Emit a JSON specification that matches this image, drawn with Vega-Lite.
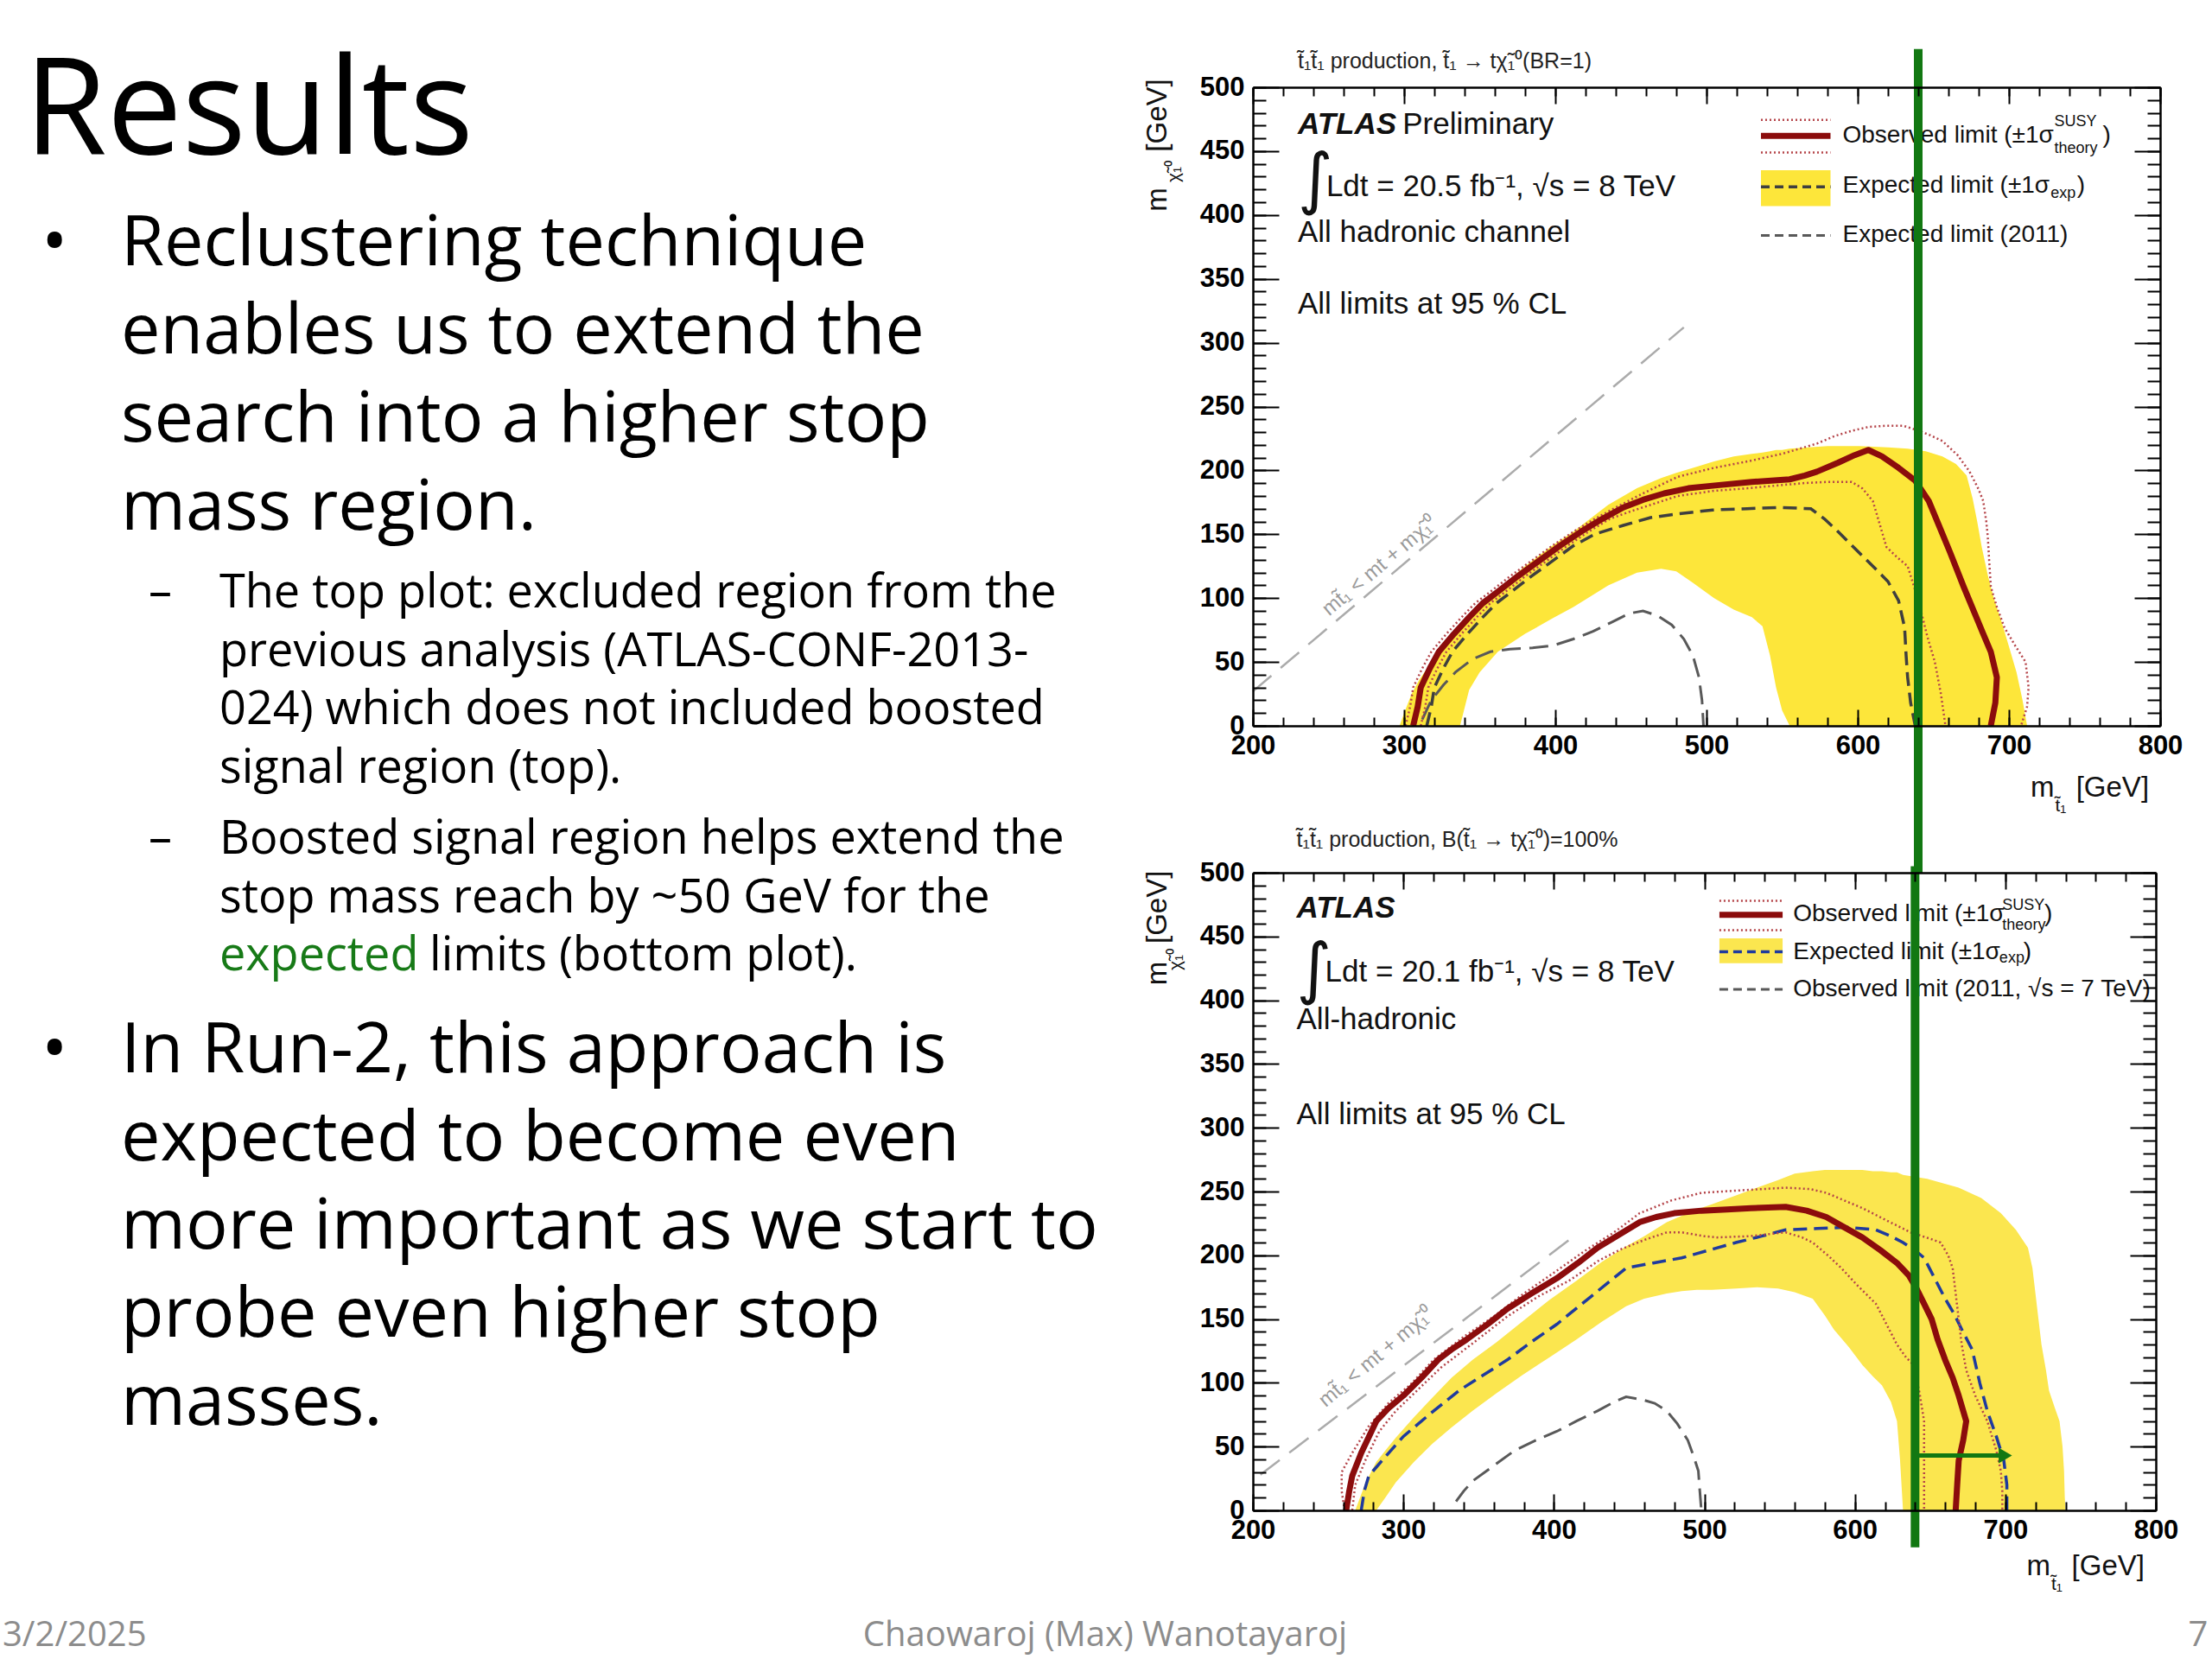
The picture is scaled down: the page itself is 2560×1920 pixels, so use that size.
{
"$schema":"https://vega.github.io/schema/vega-lite/v6.json",
"background":"white",
"padding":0,
"config":{"view":{"stroke":null},"axis":{"grid":false}},
"datasets":{
"L_title":[{"x":28,"y":178,"t":"Results"}],
"L_main":[{"x":140,"y":307,"t":"Reclustering technique\nenables us to extend the\nsearch into a higher stop\nmass region."},{"x":140,"y":1241,"t":"In Run-2, this approach is\nexpected to become even\nmore important as we start to\nprobe even higher stop\nmasses."}],
"L_bul":[{"x":48,"y":307,"t":"•"},{"x":48,"y":1241,"t":"•"}],
"L_sub":[{"x":254,"y":703,"t":"The top plot: excluded region from the\nprevious analysis (ATLAS-CONF-2013-\n024) which does not included boosted\nsignal region (top)."},{"x":254,"y":988,"t":"Boosted signal region helps extend the\nstop mass reach by ~50 GeV for the"},{"x":497,"y":1123,"t":"limits (bottom plot)."}],
"L_dash":[{"x":172,"y":703,"t":"–"},{"x":172,"y":988,"t":"–"}],
"L_green":[{"x":254,"y":1123,"t":"expected"}],
"L_footL":[{"x":3,"y":1905,"t":"3/2/2025"}],
"L_footC":[{"x":1279,"y":1905,"t":"Chaowaroj (Max) Wanotayaroj"},{"x":2544,"y":1905,"t":"7"}],
"A_band":[{"m":297,"lo":0,"hi":0},{"m":300,"lo":0,"hi":10},{"m":305,"lo":0,"hi":25},{"m":310,"lo":0,"hi":36},{"m":320,"lo":0,"hi":53},{"m":330,"lo":0,"hi":67},{"m":337,"lo":0,"hi":77},{"m":343,"lo":28,"hi":85},{"m":350,"lo":42,"hi":93},{"m":362,"lo":58,"hi":107},{"m":380,"lo":72,"hi":125},{"m":398,"lo":84,"hi":141},{"m":412,"lo":93,"hi":152},{"m":435,"lo":110,"hi":173},{"m":454,"lo":120,"hi":186},{"m":470,"lo":123,"hi":194},{"m":480,"lo":121,"hi":198},{"m":491,"lo":112,"hi":202},{"m":505,"lo":100,"hi":207},{"m":518,"lo":91,"hi":211},{"m":530,"lo":85,"hi":213},{"m":537,"lo":78,"hi":214},{"m":542,"lo":55,"hi":215},{"m":546,"lo":30,"hi":216},{"m":550,"lo":12,"hi":216},{"m":555,"lo":0,"hi":217},{"m":580,"lo":0,"hi":219},{"m":601,"lo":0,"hi":219},{"m":620,"lo":0,"hi":218},{"m":633,"lo":0,"hi":217},{"m":645,"lo":0,"hi":215},{"m":656,"lo":0,"hi":211},{"m":665,"lo":0,"hi":205},{"m":672,"lo":0,"hi":196},{"m":676,"lo":0,"hi":178},{"m":679,"lo":0,"hi":160},{"m":682,"lo":0,"hi":140},{"m":686,"lo":0,"hi":118},{"m":690,"lo":0,"hi":100},{"m":695,"lo":0,"hi":82},{"m":700,"lo":0,"hi":62},{"m":705,"lo":0,"hi":42},{"m":709,"lo":0,"hi":20},{"m":712,"lo":0,"hi":0}],
"A_obs":[{"o":0,"m":306,"v":0},{"o":1,"m":309,"v":15},{"o":2,"m":311,"v":30},{"o":3,"m":317,"v":45},{"o":4,"m":323,"v":58},{"o":5,"m":333,"v":72},{"o":6,"m":343,"v":85},{"o":7,"m":352,"v":96},{"o":8,"m":362,"v":105},{"o":9,"m":375,"v":117},{"o":10,"m":389,"v":129},{"o":11,"m":403,"v":141},{"o":12,"m":417,"v":152},{"o":13,"m":431,"v":162},{"o":14,"m":445,"v":171},{"o":15,"m":458,"v":177},{"o":16,"m":472,"v":182},{"o":17,"m":488,"v":186},{"o":18,"m":504,"v":188},{"o":19,"m":530,"v":191},{"o":20,"m":555,"v":193},{"o":21,"m":565,"v":196},{"o":22,"m":573,"v":199},{"o":23,"m":587,"v":206},{"o":24,"m":598,"v":212},{"o":25,"m":607,"v":216},{"o":26,"m":616,"v":211},{"o":27,"m":627,"v":202},{"o":28,"m":638,"v":192},{"o":29,"m":647,"v":176},{"o":30,"m":654,"v":156},{"o":31,"m":661,"v":136},{"o":32,"m":670,"v":109},{"o":33,"m":677,"v":89},{"o":34,"m":683,"v":72},{"o":35,"m":688,"v":58},{"o":36,"m":692,"v":38},{"o":37,"m":691,"v":18},{"o":38,"m":688,"v":0}],
"A_up":[{"o":0,"m":301,"v":0},{"o":1,"m":304,"v":15},{"o":2,"m":306,"v":30},{"o":3,"m":312,"v":45},{"o":4,"m":318,"v":58},{"o":5,"m":328,"v":72},{"o":6,"m":338,"v":85},{"o":7,"m":347,"v":96},{"o":8,"m":357,"v":105},{"o":9,"m":370,"v":117},{"o":10,"m":384,"v":129},{"o":11,"m":398,"v":141},{"o":12,"m":412,"v":152},{"o":13,"m":426,"v":162},{"o":14,"m":440,"v":171},{"o":15,"m":458,"v":182},{"o":16,"m":481,"v":195},{"o":17,"m":505,"v":202},{"o":18,"m":527,"v":207},{"o":19,"m":550,"v":213},{"o":20,"m":573,"v":221},{"o":21,"m":585,"v":227},{"o":22,"m":596,"v":231},{"o":23,"m":607,"v":234},{"o":24,"m":619,"v":235},{"o":25,"m":630,"v":235},{"o":26,"m":638,"v":232},{"o":27,"m":647,"v":228},{"o":28,"m":656,"v":223},{"o":29,"m":666,"v":212},{"o":30,"m":674,"v":199},{"o":31,"m":680,"v":185},{"o":32,"m":683,"v":176},{"o":33,"m":685,"v":160},{"o":34,"m":686,"v":148},{"o":35,"m":687,"v":128},{"o":36,"m":688,"v":109},{"o":37,"m":692,"v":93},{"o":38,"m":697,"v":77},{"o":39,"m":704,"v":63},{"o":40,"m":711,"v":50},{"o":41,"m":713,"v":30},{"o":42,"m":712,"v":15},{"o":43,"m":708,"v":0}],
"A_dn":[{"o":0,"m":311,"v":0},{"o":1,"m":314,"v":15},{"o":2,"m":316,"v":30},{"o":3,"m":322,"v":45},{"o":4,"m":328,"v":58},{"o":5,"m":338,"v":72},{"o":6,"m":348,"v":85},{"o":7,"m":357,"v":96},{"o":8,"m":367,"v":105},{"o":9,"m":380,"v":117},{"o":10,"m":394,"v":129},{"o":11,"m":408,"v":141},{"o":12,"m":422,"v":152},{"o":13,"m":436,"v":162},{"o":14,"m":450,"v":168},{"o":15,"m":463,"v":173},{"o":16,"m":481,"v":180},{"o":17,"m":505,"v":184},{"o":18,"m":527,"v":186},{"o":19,"m":545,"v":188},{"o":20,"m":564,"v":190},{"o":21,"m":580,"v":191},{"o":22,"m":596,"v":191},{"o":23,"m":603,"v":186},{"o":24,"m":610,"v":176},{"o":25,"m":614,"v":160},{"o":26,"m":619,"v":140},{"o":27,"m":626,"v":132},{"o":28,"m":633,"v":125},{"o":29,"m":637,"v":110},{"o":30,"m":642,"v":89},{"o":31,"m":646,"v":70},{"o":32,"m":651,"v":50},{"o":33,"m":655,"v":25},{"o":34,"m":658,"v":0}],
"A_exp":[{"o":0,"m":315,"v":0},{"o":1,"m":318,"v":15},{"o":2,"m":320,"v":30},{"o":3,"m":326,"v":45},{"o":4,"m":332,"v":58},{"o":5,"m":342,"v":72},{"o":6,"m":352,"v":85},{"o":7,"m":361,"v":96},{"o":8,"m":371,"v":105},{"o":9,"m":384,"v":117},{"o":10,"m":398,"v":129},{"o":11,"m":412,"v":141},{"o":12,"m":426,"v":150},{"o":13,"m":445,"v":157},{"o":14,"m":463,"v":163},{"o":15,"m":481,"v":166},{"o":16,"m":504,"v":169},{"o":17,"m":527,"v":170},{"o":18,"m":548,"v":171},{"o":19,"m":569,"v":170},{"o":20,"m":578,"v":162},{"o":21,"m":587,"v":152},{"o":22,"m":598,"v":139},{"o":23,"m":610,"v":125},{"o":24,"m":620,"v":113},{"o":25,"m":627,"v":98},{"o":26,"m":631,"v":77},{"o":27,"m":632,"v":55},{"o":28,"m":633,"v":38},{"o":29,"m":635,"v":18},{"o":30,"m":638,"v":0}],
"A_2011":[{"o":0,"m":312,"v":5},{"o":1,"m":318,"v":20},{"o":2,"m":326,"v":32},{"o":3,"m":334,"v":42},{"o":4,"m":345,"v":52},{"o":5,"m":357,"v":58},{"o":6,"m":370,"v":60},{"o":7,"m":385,"v":61},{"o":8,"m":399,"v":63},{"o":9,"m":412,"v":68},{"o":10,"m":425,"v":74},{"o":11,"m":437,"v":81},{"o":12,"m":449,"v":88},{"o":13,"m":458,"v":90},{"o":14,"m":468,"v":86},{"o":15,"m":477,"v":79},{"o":16,"m":485,"v":68},{"o":17,"m":491,"v":55},{"o":18,"m":495,"v":38},{"o":19,"m":497,"v":20},{"o":20,"m":498,"v":0}],
"A_diag":[{"o":0,"m":200,"v":27},{"o":1,"m":485,"v":312}],
"A_legbox":[{"m":536,"m2":582,"v":407,"v2":435}],
"A_legdot":[{"m":536,"m2":582,"v":474.5},{"m":536,"m2":582,"v":449}],
"A_legobs":[{"m":536,"m2":582,"v":462}],
"A_legexp":[{"m":536,"m2":582,"v":422}],
"A_leg2011":[{"m":536,"m2":582,"v":384}],
"A_head":[{"m":229.7,"v":520,"t":"t̃₁t̃₁ production, t̃₁ → tχ̃₁⁰(BR=1)"}],
"A_atlas":[{"m":229.7,"v":471,"t":"ATLAS"}],
"A_t35":[{"m":299,"v":471,"t":"Preliminary"},{"m":248.5,"v":422,"t":"Ldt = 20.5 fb⁻¹, √s = 8 TeV"},{"m":229.7,"v":386,"t":"All hadronic channel"},{"m":229.7,"v":330,"t":"All limits at 95 % CL"}],
"A_int":[{"m":229.7,"v":426,"t":"∫"}],
"A_leg":[{"m":590,"v":462,"t":"Observed limit (±1σ"},{"m":590,"v":423,"t":"Expected limit (±1σ"},{"m":590,"v":384,"t":"Expected limit (2011)"},{"m":762,"v":462,"t":")"},{"m":745,"v":423,"t":")"}],
"A_legsm":[{"m":730,"v":473,"t":"SUSY"},{"m":730,"v":452,"t":"theory"},{"m":727.5,"v":417,"t":"exp"}],
"A_xt":[{"m":730,"v":-49,"t":"m"},{"m":792.6,"v":-49,"t":"[GeV]"}],
"A_xs":[{"m":730.5,"v":-63,"t":"t̃₁"}],
"A_yt":[{"m":137,"v":478,"t":"[GeV]"},{"m":137,"v":412,"t":"m"}],
"A_ys":[{"m":148,"v":434,"t":"χ̃₁⁰"}],
"A_dl":[{"m":284,"v":125,"t":"mt̃₁ < mt + mχ̃₁⁰"}],
"A_green":[{"m":640,"v":530,"v2":-115}],
"B_band":[{"m":268,"lo":0,"hi":0},{"m":275,"lo":0,"hi":22},{"m":282,"lo":0,"hi":38},{"m":288,"lo":10,"hi":47},{"m":295,"lo":22,"hi":57},{"m":307,"lo":38,"hi":73},{"m":319,"lo":52,"hi":88},{"m":332,"lo":65,"hi":104},{"m":346,"lo":78,"hi":118},{"m":362,"lo":92,"hi":132},{"m":379,"lo":106,"hi":148},{"m":397,"lo":120,"hi":165},{"m":415,"lo":134,"hi":180},{"m":432,"lo":148,"hi":195},{"m":448,"lo":160,"hi":207},{"m":460,"lo":166,"hi":215},{"m":475,"lo":170,"hi":226},{"m":485,"lo":172,"hi":231},{"m":495,"lo":173,"hi":236},{"m":505,"lo":173,"hi":240},{"m":521,"lo":174,"hi":247},{"m":535,"lo":175,"hi":253},{"m":549,"lo":174,"hi":259},{"m":560,"lo":171,"hi":264},{"m":572,"lo":166,"hi":266},{"m":580,"lo":153,"hi":267},{"m":586,"lo":142,"hi":267},{"m":596,"lo":128,"hi":267},{"m":605,"lo":114,"hi":267},{"m":612,"lo":105,"hi":266},{"m":618,"lo":98,"hi":266},{"m":624,"lo":85,"hi":265},{"m":628,"lo":70,"hi":265},{"m":630,"lo":40,"hi":264},{"m":632,"lo":0,"hi":263},{"m":648,"lo":0,"hi":260},{"m":669,"lo":0,"hi":253},{"m":684,"lo":0,"hi":245},{"m":697,"lo":0,"hi":233},{"m":707,"lo":0,"hi":220},{"m":715,"lo":0,"hi":206},{"m":718,"lo":0,"hi":190},{"m":720,"lo":0,"hi":170},{"m":722,"lo":0,"hi":150},{"m":724,"lo":0,"hi":130},{"m":727,"lo":0,"hi":110},{"m":729,"lo":0,"hi":94},{"m":733,"lo":0,"hi":80},{"m":736,"lo":0,"hi":70},{"m":738,"lo":0,"hi":50},{"m":739,"lo":0,"hi":31},{"m":739.5,"lo":0,"hi":10},{"m":740,"lo":0,"hi":0}],
"B_obs":[{"o":0,"m":262,"v":0},{"o":1,"m":264,"v":15},{"o":2,"m":266,"v":27},{"o":3,"m":272,"v":45},{"o":4,"m":282,"v":70},{"o":5,"m":290,"v":80},{"o":6,"m":300,"v":90},{"o":7,"m":312,"v":104},{"o":8,"m":323,"v":118},{"o":9,"m":333,"v":127},{"o":10,"m":342,"v":134},{"o":11,"m":356,"v":146},{"o":12,"m":369,"v":158},{"o":13,"m":385,"v":170},{"o":14,"m":402,"v":182},{"o":15,"m":416,"v":194},{"o":16,"m":429,"v":206},{"o":17,"m":443,"v":216},{"o":18,"m":457,"v":226},{"o":19,"m":468,"v":230},{"o":20,"m":480,"v":233},{"o":21,"m":498,"v":235},{"o":22,"m":515,"v":236},{"o":23,"m":531,"v":237},{"o":24,"m":554,"v":238},{"o":25,"m":568,"v":235},{"o":26,"m":581,"v":230},{"o":27,"m":593,"v":222},{"o":28,"m":605,"v":214},{"o":29,"m":617,"v":204},{"o":30,"m":628,"v":194},{"o":31,"m":636,"v":184},{"o":32,"m":641,"v":174},{"o":33,"m":646,"v":162},{"o":34,"m":651,"v":150},{"o":35,"m":655,"v":134},{"o":36,"m":660,"v":118},{"o":37,"m":665,"v":104},{"o":38,"m":669,"v":90},{"o":39,"m":674,"v":70},{"o":40,"m":672,"v":55},{"o":41,"m":669,"v":39},{"o":42,"m":668,"v":20},{"o":43,"m":667,"v":0}],
"B_up":[{"o":0,"m":261,"v":0},{"o":1,"m":259,"v":15},{"o":2,"m":259,"v":30},{"o":3,"m":266,"v":45},{"o":4,"m":277,"v":66},{"o":5,"m":290,"v":84},{"o":6,"m":305,"v":99},{"o":7,"m":320,"v":118},{"o":8,"m":340,"v":136},{"o":9,"m":360,"v":152},{"o":10,"m":380,"v":170},{"o":11,"m":402,"v":188},{"o":12,"m":420,"v":203},{"o":13,"m":440,"v":218},{"o":14,"m":457,"v":233},{"o":15,"m":478,"v":243},{"o":16,"m":498,"v":249},{"o":17,"m":525,"v":251},{"o":18,"m":554,"v":253},{"o":19,"m":570,"v":252},{"o":20,"m":581,"v":249},{"o":21,"m":593,"v":243},{"o":22,"m":605,"v":237},{"o":23,"m":620,"v":228},{"o":24,"m":637,"v":218},{"o":25,"m":650,"v":213},{"o":26,"m":657,"v":210},{"o":27,"m":662,"v":200},{"o":28,"m":665,"v":190},{"o":29,"m":667,"v":170},{"o":30,"m":669,"v":150},{"o":31,"m":671,"v":130},{"o":32,"m":674,"v":110},{"o":33,"m":680,"v":90},{"o":34,"m":688,"v":70},{"o":35,"m":694,"v":47},{"o":36,"m":697,"v":31},{"o":37,"m":698,"v":15},{"o":38,"m":698,"v":0}],
"B_dn":[{"o":0,"m":266,"v":0},{"o":1,"m":268,"v":20},{"o":2,"m":275,"v":40},{"o":3,"m":284,"v":62},{"o":4,"m":295,"v":78},{"o":5,"m":310,"v":95},{"o":6,"m":325,"v":112},{"o":7,"m":345,"v":130},{"o":8,"m":369,"v":152},{"o":9,"m":390,"v":168},{"o":10,"m":410,"v":180},{"o":11,"m":430,"v":196},{"o":12,"m":445,"v":205},{"o":13,"m":460,"v":212},{"o":14,"m":475,"v":218},{"o":15,"m":485,"v":218},{"o":16,"m":500,"v":215},{"o":17,"m":508,"v":214},{"o":18,"m":530,"v":215},{"o":19,"m":554,"v":218},{"o":20,"m":565,"v":214},{"o":21,"m":572,"v":210},{"o":22,"m":582,"v":200},{"o":23,"m":591,"v":190},{"o":24,"m":602,"v":176},{"o":25,"m":614,"v":162},{"o":26,"m":621,"v":146},{"o":27,"m":628,"v":130},{"o":28,"m":634,"v":120},{"o":29,"m":639,"v":114},{"o":30,"m":643,"v":92},{"o":31,"m":646,"v":70},{"o":32,"m":646,"v":40},{"o":33,"m":646,"v":0}],
"B_exp":[{"o":0,"m":272,"v":0},{"o":1,"m":274,"v":15},{"o":2,"m":277,"v":27},{"o":3,"m":288,"v":42},{"o":4,"m":300,"v":58},{"o":5,"m":318,"v":76},{"o":6,"m":337,"v":94},{"o":7,"m":353,"v":106},{"o":8,"m":369,"v":118},{"o":9,"m":385,"v":132},{"o":10,"m":402,"v":146},{"o":11,"m":425,"v":168},{"o":12,"m":448,"v":190},{"o":13,"m":466,"v":194},{"o":14,"m":485,"v":198},{"o":15,"m":503,"v":204},{"o":16,"m":521,"v":210},{"o":17,"m":538,"v":215},{"o":18,"m":554,"v":220},{"o":19,"m":575,"v":221},{"o":20,"m":595,"v":222},{"o":21,"m":614,"v":220},{"o":22,"m":624,"v":215},{"o":23,"m":632,"v":210},{"o":24,"m":640,"v":204},{"o":25,"m":646,"v":198},{"o":26,"m":653,"v":182},{"o":27,"m":660,"v":166},{"o":28,"m":666,"v":154},{"o":29,"m":671,"v":142},{"o":30,"m":678,"v":126},{"o":31,"m":683,"v":100},{"o":32,"m":688,"v":78},{"o":33,"m":694,"v":58},{"o":34,"m":699,"v":39},{"o":35,"m":701,"v":20},{"o":36,"m":701,"v":0}],
"B_2011":[{"o":0,"m":335,"v":7},{"o":1,"m":340,"v":15},{"o":2,"m":346,"v":23},{"o":3,"m":360,"v":35},{"o":4,"m":374,"v":47},{"o":5,"m":388,"v":55},{"o":6,"m":402,"v":62},{"o":7,"m":415,"v":70},{"o":8,"m":429,"v":78},{"o":9,"m":440,"v":85},{"o":10,"m":448,"v":89},{"o":11,"m":458,"v":87},{"o":12,"m":467,"v":84},{"o":13,"m":475,"v":78},{"o":14,"m":482,"v":68},{"o":15,"m":489,"v":55},{"o":16,"m":493,"v":42},{"o":17,"m":496,"v":31},{"o":18,"m":497,"v":15},{"o":19,"m":498,"v":0}],
"B_diag":[{"o":0,"m":205,"v":28},{"o":1,"m":410,"v":212}],
"B_legbox":[{"m":510,"m2":552,"v":429,"v2":448.5}],
"B_legdot":[{"m":510,"m2":552,"v":478},{"m":510,"m2":552,"v":455}],
"B_legobs":[{"m":510,"m2":552,"v":467}],
"B_legexp":[{"m":510,"m2":552,"v":438}],
"B_leg2011":[{"m":510,"m2":552,"v":408.5}],
"B_head":[{"m":229,"v":526,"t":"t̃₁t̃₁ production, B(t̃₁ → tχ̃₁⁰)=100%"}],
"B_atlas":[{"m":229,"v":472,"t":"ATLAS"}],
"B_t35":[{"m":248,"v":422,"t":"Ldt = 20.1 fb⁻¹, √s = 8 TeV"},{"m":229,"v":385,"t":"All-hadronic"},{"m":229,"v":310,"t":"All limits at 95 % CL"}],
"B_int":[{"m":229,"v":423,"t":"∫"}],
"B_leg":[{"m":559,"v":467.5,"t":"Observed limit (±1σ"},{"m":559,"v":438,"t":"Expected limit (±1σ"},{"m":559,"v":408.5,"t":"Observed limit (2011, √s = 7 TeV)"},{"m":726,"v":467.5,"t":")"},{"m":712,"v":438,"t":")"}],
"B_legsm":[{"m":698,"v":474,"t":"SUSY"},{"m":698,"v":459,"t":"theory"},{"m":696,"v":433,"t":"exp"}],
"B_xt":[{"m":730,"v":-44,"t":"m"},{"m":792.5,"v":-44,"t":"[GeV]"}],
"B_xs":[{"m":730.5,"v":-58.5,"t":"t̃₁"}],
"B_yt":[{"m":137,"v":473,"t":"[GeV]"},{"m":137,"v":421,"t":"m"}],
"B_ys":[{"m":149,"v":432,"t":"χ̃₁⁰"}],
"B_dl":[{"m":282,"v":120,"t":"mt̃₁ < mt + mχ̃₁⁰"}],
"B_green":[{"m":640,"v":505,"v2":-29}],
"B_arrow":[{"m":640,"m2":696,"v":43}],
"B_arrowhead":[{"m":700,"v":43}]
},
"hconcat":[
{
"width":1300,"height":1920,
"encoding":{
"x":{"field":"x","type":"quantitative","scale":{"domain":[0,1300],"nice":false,"zero":false},"axis":null},
"y":{"field":"y","type":"quantitative","scale":{"domain":[0,1920],"nice":false,"zero":false,"reverse":true},"axis":null},
"text":{"field":"t"}
},
"layer":[
{"data":{"name":"L_title"},"mark":{"type":"text","font":"Open Sans","fontSize":155,"align":"left","baseline":"alphabetic","color":"#000"}},
{"data":{"name":"L_main"},"mark":{"type":"text","font":"Open Sans","fontSize":81,"align":"left","baseline":"alphabetic","lineBreak":"\n","lineHeight":102,"color":"#000"}},
{"data":{"name":"L_bul"},"mark":{"type":"text","font":"Open Sans","fontSize":81,"align":"left","baseline":"alphabetic","color":"#000"}},
{"data":{"name":"L_sub"},"mark":{"type":"text","font":"Open Sans","fontSize":54,"align":"left","baseline":"alphabetic","lineBreak":"\n","lineHeight":67.5,"color":"#000"}},
{"data":{"name":"L_dash"},"mark":{"type":"text","font":"Open Sans","fontSize":54,"align":"left","baseline":"alphabetic","color":"#000"}},
{"data":{"name":"L_green"},"mark":{"type":"text","font":"Open Sans","fontSize":54,"align":"left","baseline":"alphabetic","color":"#177a17"}},
{"data":{"name":"L_footL"},"mark":{"type":"text","font":"Open Sans","fontSize":40,"align":"left","baseline":"alphabetic","color":"#8c8c8c"}},
{"data":{"name":"L_footC"},"mark":{"type":"text","font":"Open Sans","fontSize":40,"align":"center","baseline":"alphabetic","color":"#8c8c8c"}}
]
},
{
"vconcat":[
{"width":1050,"height":101,"data":{"values":[{"t":""}]},"mark":{"type":"text"},"encoding":{"text":{"field":"t"}}},
{
"vconcat":[
{
"width":1050,"height":739,
"resolve":{"axis":{"x":"independent","y":"independent"}},
"layer":[
{"data":{"name":"A_band"},"mark":{"type":"area","color":"#fde63a","opacity":1},
"encoding":{"x":{"field":"m","type":"quantitative","scale":{"domain":[200,800],"nice":false,"zero":false},"axis":{"orient":"bottom","values":[200,300,400,500,600,700,800],"ticks":false,"tickSize":0,"domain":false,"title":null,"labelFont":"Liberation Sans","labelFontSize":31,"labelFontWeight":"bold","labelColor":"#000","labelPadding":8,"labelFlush":false,"labelOverlap":false}},
"y":{"field":"lo","type":"quantitative","scale":{"domain":[0,500],"nice":false,"zero":false},"axis":{"orient":"left","values":[0,50,100,150,200,250,300,350,400,450,500],"ticks":false,"tickSize":0,"domain":false,"title":null,"labelFont":"Liberation Sans","labelFontSize":31,"labelFontWeight":"bold","labelColor":"#000","labelPadding":10,"labelFlush":false,"labelOverlap":false}},
"y2":{"field":"hi"}}},
{"data":{"name":"A_diag"},"mark":{"type":"line","color":"#ababab","strokeWidth":2.5,"strokeDash":[28,14]},
"encoding":{"x":{"field":"m","type":"quantitative","scale":{"domain":[200,800],"nice":false,"zero":false},"axis":null},"y":{"field":"v","type":"quantitative","scale":{"domain":[0,500],"nice":false,"zero":false},"axis":null},"order":{"field":"o","type":"quantitative"}}},
{"data":{"name":"A_2011"},"mark":{"type":"line","color":"#595959","strokeWidth":3,"strokeDash":[22,10]},
"encoding":{"x":{"field":"m","type":"quantitative","scale":{"domain":[200,800],"nice":false,"zero":false},"axis":null},"y":{"field":"v","type":"quantitative","scale":{"domain":[0,500],"nice":false,"zero":false},"axis":null},"order":{"field":"o","type":"quantitative"}}},
{"data":{"name":"A_exp"},"mark":{"type":"line","color":"#3f3f3f","strokeWidth":3.5,"strokeDash":[16,8]},
"encoding":{"x":{"field":"m","type":"quantitative","scale":{"domain":[200,800],"nice":false,"zero":false},"axis":{"orient":"top","values":[200,220,240,260,280,300,320,340,360,380,400,420,440,460,480,500,520,540,560,580,600,620,640,660,680,700,720,740,760,780,800],"labels":false,"tickSize":-10,"tickWidth":2,"tickColor":"#000","domain":false,"title":null,"zindex":1}},
"y":{"field":"v","type":"quantitative","scale":{"domain":[0,500],"nice":false,"zero":false},"axis":{"orient":"right","values":[0,10,20,30,40,50,60,70,80,90,100,110,120,130,140,150,160,170,180,190,200,210,220,230,240,250,260,270,280,290,300,310,320,330,340,350,360,370,380,390,400,410,420,430,440,450,460,470,480,490,500],"labels":false,"tickSize":-15,"tickWidth":2,"tickColor":"#000","domain":false,"title":null,"zindex":1}},
"order":{"field":"o","type":"quantitative"}}},
{"data":{"name":"A_dn"},"mark":{"type":"line","color":"#b5454a","strokeWidth":2.5,"strokeDash":[2,3]},
"encoding":{"x":{"field":"m","type":"quantitative","scale":{"domain":[200,800],"nice":false,"zero":false},"axis":{"orient":"top","values":[200,300,400,500,600,700,800],"labels":false,"tickSize":-19,"tickWidth":2,"tickColor":"#000","domain":true,"domainColor":"#000","domainWidth":2.5,"title":null,"zindex":1}},
"y":{"field":"v","type":"quantitative","scale":{"domain":[0,500],"nice":false,"zero":false},"axis":{"orient":"right","values":[0,50,100,150,200,250,300,350,400,450,500],"labels":false,"tickSize":-30,"tickWidth":2,"tickColor":"#000","domain":true,"domainColor":"#000","domainWidth":2.5,"title":null,"zindex":1}},
"order":{"field":"o","type":"quantitative"}}},
{"data":{"name":"A_up"},"mark":{"type":"line","color":"#b5454a","strokeWidth":2.5,"strokeDash":[2,3]},
"encoding":{"x":{"field":"m","type":"quantitative","scale":{"domain":[200,800],"nice":false,"zero":false},"axis":{"orient":"bottom","values":[200,220,240,260,280,300,320,340,360,380,400,420,440,460,480,500,520,540,560,580,600,620,640,660,680,700,720,740,760,780,800],"labels":false,"tickSize":-10,"tickWidth":2,"tickColor":"#000","domain":false,"title":null,"zindex":1}},
"y":{"field":"v","type":"quantitative","scale":{"domain":[0,500],"nice":false,"zero":false},"axis":{"orient":"left","values":[0,10,20,30,40,50,60,70,80,90,100,110,120,130,140,150,160,170,180,190,200,210,220,230,240,250,260,270,280,290,300,310,320,330,340,350,360,370,380,390,400,410,420,430,440,450,460,470,480,490,500],"labels":false,"tickSize":-15,"tickWidth":2,"tickColor":"#000","domain":false,"title":null,"zindex":1}},
"order":{"field":"o","type":"quantitative"}}},
{"data":{"name":"A_obs"},"mark":{"type":"line","color":"#8b0c0c","strokeWidth":7,"strokeJoin":"round"},
"encoding":{"x":{"field":"m","type":"quantitative","scale":{"domain":[200,800],"nice":false,"zero":false},"axis":{"orient":"bottom","values":[200,300,400,500,600,700,800],"labels":false,"tickSize":-19,"tickWidth":2,"tickColor":"#000","domain":true,"domainColor":"#000","domainWidth":2.5,"title":null,"zindex":1}},
"y":{"field":"v","type":"quantitative","scale":{"domain":[0,500],"nice":false,"zero":false},"axis":{"orient":"left","values":[0,50,100,150,200,250,300,350,400,450,500],"labels":false,"tickSize":-30,"tickWidth":2,"tickColor":"#000","domain":true,"domainColor":"#000","domainWidth":2.5,"title":null,"zindex":1}},
"order":{"field":"o","type":"quantitative"}}},
{"data":{"name":"A_legbox"},"mark":{"type":"rect","color":"#fde63a"},
"encoding":{"x":{"field":"m","type":"quantitative","scale":{"domain":[200,800],"nice":false,"zero":false},"axis":null},"x2":{"field":"m2"},"y":{"field":"v","type":"quantitative","scale":{"domain":[0,500],"nice":false,"zero":false},"axis":null},"y2":{"field":"v2"}}},
{"data":{"name":"A_legdot"},"mark":{"type":"rule","color":"#b5454a","strokeWidth":2.5,"strokeDash":[2,3]},
"encoding":{"x":{"field":"m","type":"quantitative","scale":{"domain":[200,800],"nice":false,"zero":false},"axis":null},"x2":{"field":"m2"},"y":{"field":"v","type":"quantitative","scale":{"domain":[0,500],"nice":false,"zero":false},"axis":null}}},
{"data":{"name":"A_legobs"},"mark":{"type":"rule","color":"#8b0c0c","strokeWidth":7},
"encoding":{"x":{"field":"m","type":"quantitative","scale":{"domain":[200,800],"nice":false,"zero":false},"axis":null},"x2":{"field":"m2"},"y":{"field":"v","type":"quantitative","scale":{"domain":[0,500],"nice":false,"zero":false},"axis":null}}},
{"data":{"name":"A_legexp"},"mark":{"type":"rule","color":"#3f3f3f","strokeWidth":3.5,"strokeDash":[10,6]},
"encoding":{"x":{"field":"m","type":"quantitative","scale":{"domain":[200,800],"nice":false,"zero":false},"axis":null},"x2":{"field":"m2"},"y":{"field":"v","type":"quantitative","scale":{"domain":[0,500],"nice":false,"zero":false},"axis":null}}},
{"data":{"name":"A_leg2011"},"mark":{"type":"rule","color":"#595959","strokeWidth":3,"strokeDash":[10,6]},
"encoding":{"x":{"field":"m","type":"quantitative","scale":{"domain":[200,800],"nice":false,"zero":false},"axis":null},"x2":{"field":"m2"},"y":{"field":"v","type":"quantitative","scale":{"domain":[0,500],"nice":false,"zero":false},"axis":null}}},
{"data":{"name":"A_head"},"mark":{"type":"text","font":"Liberation Sans","fontSize":25,"align":"left","baseline":"middle","color":"#222"},
"encoding":{"x":{"field":"m","type":"quantitative","scale":{"domain":[200,800],"nice":false,"zero":false},"axis":null},"y":{"field":"v","type":"quantitative","scale":{"domain":[0,500],"nice":false,"zero":false},"axis":null},"text":{"field":"t"}}},
{"data":{"name":"A_atlas"},"mark":{"type":"text","font":"Liberation Sans","fontSize":35,"fontWeight":"bold","fontStyle":"italic","align":"left","baseline":"middle","color":"#111"},
"encoding":{"x":{"field":"m","type":"quantitative","scale":{"domain":[200,800],"nice":false,"zero":false},"axis":null},"y":{"field":"v","type":"quantitative","scale":{"domain":[0,500],"nice":false,"zero":false},"axis":null},"text":{"field":"t"}}},
{"data":{"name":"A_t35"},"mark":{"type":"text","font":"Liberation Sans","fontSize":35,"align":"left","baseline":"middle","color":"#111"},
"encoding":{"x":{"field":"m","type":"quantitative","scale":{"domain":[200,800],"nice":false,"zero":false},"axis":null},"y":{"field":"v","type":"quantitative","scale":{"domain":[0,500],"nice":false,"zero":false},"axis":null},"text":{"field":"t"}}},
{"data":{"name":"A_int"},"mark":{"type":"text","font":"DejaVu Sans","fontSize":78,"align":"left","baseline":"middle","color":"#111"},
"encoding":{"x":{"field":"m","type":"quantitative","scale":{"domain":[200,800],"nice":false,"zero":false},"axis":null},"y":{"field":"v","type":"quantitative","scale":{"domain":[0,500],"nice":false,"zero":false},"axis":null},"text":{"field":"t"}}},
{"data":{"name":"A_leg"},"mark":{"type":"text","font":"Liberation Sans","fontSize":28,"align":"left","baseline":"middle","color":"#111"},
"encoding":{"x":{"field":"m","type":"quantitative","scale":{"domain":[200,800],"nice":false,"zero":false},"axis":null},"y":{"field":"v","type":"quantitative","scale":{"domain":[0,500],"nice":false,"zero":false},"axis":null},"text":{"field":"t"}}},
{"data":{"name":"A_legsm"},"mark":{"type":"text","font":"Liberation Sans","fontSize":18,"align":"left","baseline":"middle","color":"#111"},
"encoding":{"x":{"field":"m","type":"quantitative","scale":{"domain":[200,800],"nice":false,"zero":false},"axis":null},"y":{"field":"v","type":"quantitative","scale":{"domain":[0,500],"nice":false,"zero":false},"axis":null},"text":{"field":"t"}}},
{"data":{"name":"A_xt"},"mark":{"type":"text","font":"Liberation Sans","fontSize":33,"align":"right","baseline":"middle","color":"#111"},
"encoding":{"x":{"field":"m","type":"quantitative","scale":{"domain":[200,800],"nice":false,"zero":false},"axis":null},"y":{"field":"v","type":"quantitative","scale":{"domain":[0,500],"nice":false,"zero":false},"axis":null},"text":{"field":"t"}}},
{"data":{"name":"A_xs"},"mark":{"type":"text","font":"Liberation Sans","fontSize":21,"align":"left","baseline":"middle","color":"#111"},
"encoding":{"x":{"field":"m","type":"quantitative","scale":{"domain":[200,800],"nice":false,"zero":false},"axis":null},"y":{"field":"v","type":"quantitative","scale":{"domain":[0,500],"nice":false,"zero":false},"axis":null},"text":{"field":"t"}}},
{"data":{"name":"A_yt"},"mark":{"type":"text","font":"Liberation Sans","fontSize":33,"align":"center","baseline":"middle","angle":270,"color":"#111"},
"encoding":{"x":{"field":"m","type":"quantitative","scale":{"domain":[200,800],"nice":false,"zero":false},"axis":null},"y":{"field":"v","type":"quantitative","scale":{"domain":[0,500],"nice":false,"zero":false},"axis":null},"text":{"field":"t"}}},
{"data":{"name":"A_ys"},"mark":{"type":"text","font":"Liberation Sans","fontSize":21,"align":"center","baseline":"middle","angle":270,"color":"#111"},
"encoding":{"x":{"field":"m","type":"quantitative","scale":{"domain":[200,800],"nice":false,"zero":false},"axis":null},"y":{"field":"v","type":"quantitative","scale":{"domain":[0,500],"nice":false,"zero":false},"axis":null},"text":{"field":"t"}}},
{"data":{"name":"A_dl"},"mark":{"type":"text","font":"Liberation Sans","fontSize":24,"align":"center","baseline":"middle","angle":320,"color":"#9a9a9a"},
"encoding":{"x":{"field":"m","type":"quantitative","scale":{"domain":[200,800],"nice":false,"zero":false},"axis":null},"y":{"field":"v","type":"quantitative","scale":{"domain":[0,500],"nice":false,"zero":false},"axis":null},"text":{"field":"t"}}},
{"data":{"name":"A_green"},"mark":{"type":"rule","color":"#127812","strokeWidth":10},
"encoding":{"x":{"field":"m","type":"quantitative","scale":{"domain":[200,800],"nice":false,"zero":false},"axis":null},"y":{"field":"v","type":"quantitative","scale":{"domain":[0,500],"nice":false,"zero":false},"axis":null},"y2":{"field":"v2"}}}
]
},
{
"width":1045,"height":738,
"resolve":{"axis":{"x":"independent","y":"independent"}},
"layer":[
{"data":{"name":"B_band"},"mark":{"type":"area","color":"#fbe64f","opacity":1},
"encoding":{"x":{"field":"m","type":"quantitative","scale":{"domain":[200,800],"nice":false,"zero":false},"axis":{"orient":"bottom","values":[200,300,400,500,600,700,800],"ticks":false,"tickSize":0,"domain":false,"title":null,"labelFont":"Liberation Sans","labelFontSize":31,"labelFontWeight":"bold","labelColor":"#000","labelPadding":8,"labelFlush":false,"labelOverlap":false}},
"y":{"field":"lo","type":"quantitative","scale":{"domain":[0,500],"nice":false,"zero":false},"axis":{"orient":"left","values":[0,50,100,150,200,250,300,350,400,450,500],"ticks":false,"tickSize":0,"domain":false,"title":null,"labelFont":"Liberation Sans","labelFontSize":31,"labelFontWeight":"bold","labelColor":"#000","labelPadding":10,"labelFlush":false,"labelOverlap":false}},
"y2":{"field":"hi"}}},
{"data":{"name":"B_diag"},"mark":{"type":"line","color":"#ababab","strokeWidth":2.5,"strokeDash":[28,14]},
"encoding":{"x":{"field":"m","type":"quantitative","scale":{"domain":[200,800],"nice":false,"zero":false},"axis":null},"y":{"field":"v","type":"quantitative","scale":{"domain":[0,500],"nice":false,"zero":false},"axis":null},"order":{"field":"o","type":"quantitative"}}},
{"data":{"name":"B_2011"},"mark":{"type":"line","color":"#595959","strokeWidth":3,"strokeDash":[22,10]},
"encoding":{"x":{"field":"m","type":"quantitative","scale":{"domain":[200,800],"nice":false,"zero":false},"axis":null},"y":{"field":"v","type":"quantitative","scale":{"domain":[0,500],"nice":false,"zero":false},"axis":null},"order":{"field":"o","type":"quantitative"}}},
{"data":{"name":"B_exp"},"mark":{"type":"line","color":"#1f3a9e","strokeWidth":3.5,"strokeDash":[16,8]},
"encoding":{"x":{"field":"m","type":"quantitative","scale":{"domain":[200,800],"nice":false,"zero":false},"axis":{"orient":"top","values":[200,220,240,260,280,300,320,340,360,380,400,420,440,460,480,500,520,540,560,580,600,620,640,660,680,700,720,740,760,780,800],"labels":false,"tickSize":-10,"tickWidth":2,"tickColor":"#000","domain":false,"title":null,"zindex":1}},
"y":{"field":"v","type":"quantitative","scale":{"domain":[0,500],"nice":false,"zero":false},"axis":{"orient":"right","values":[0,10,20,30,40,50,60,70,80,90,100,110,120,130,140,150,160,170,180,190,200,210,220,230,240,250,260,270,280,290,300,310,320,330,340,350,360,370,380,390,400,410,420,430,440,450,460,470,480,490,500],"labels":false,"tickSize":-15,"tickWidth":2,"tickColor":"#000","domain":false,"title":null,"zindex":1}},
"order":{"field":"o","type":"quantitative"}}},
{"data":{"name":"B_dn"},"mark":{"type":"line","color":"#b5454a","strokeWidth":2.5,"strokeDash":[2,3]},
"encoding":{"x":{"field":"m","type":"quantitative","scale":{"domain":[200,800],"nice":false,"zero":false},"axis":{"orient":"top","values":[200,300,400,500,600,700,800],"labels":false,"tickSize":-19,"tickWidth":2,"tickColor":"#000","domain":true,"domainColor":"#000","domainWidth":2.5,"title":null,"zindex":1}},
"y":{"field":"v","type":"quantitative","scale":{"domain":[0,500],"nice":false,"zero":false},"axis":{"orient":"right","values":[0,50,100,150,200,250,300,350,400,450,500],"labels":false,"tickSize":-30,"tickWidth":2,"tickColor":"#000","domain":true,"domainColor":"#000","domainWidth":2.5,"title":null,"zindex":1}},
"order":{"field":"o","type":"quantitative"}}},
{"data":{"name":"B_up"},"mark":{"type":"line","color":"#b5454a","strokeWidth":2.5,"strokeDash":[2,3]},
"encoding":{"x":{"field":"m","type":"quantitative","scale":{"domain":[200,800],"nice":false,"zero":false},"axis":{"orient":"bottom","values":[200,220,240,260,280,300,320,340,360,380,400,420,440,460,480,500,520,540,560,580,600,620,640,660,680,700,720,740,760,780,800],"labels":false,"tickSize":-10,"tickWidth":2,"tickColor":"#000","domain":false,"title":null,"zindex":1}},
"y":{"field":"v","type":"quantitative","scale":{"domain":[0,500],"nice":false,"zero":false},"axis":{"orient":"left","values":[0,10,20,30,40,50,60,70,80,90,100,110,120,130,140,150,160,170,180,190,200,210,220,230,240,250,260,270,280,290,300,310,320,330,340,350,360,370,380,390,400,410,420,430,440,450,460,470,480,490,500],"labels":false,"tickSize":-15,"tickWidth":2,"tickColor":"#000","domain":false,"title":null,"zindex":1}},
"order":{"field":"o","type":"quantitative"}}},
{"data":{"name":"B_obs"},"mark":{"type":"line","color":"#8b0c0c","strokeWidth":7,"strokeJoin":"round"},
"encoding":{"x":{"field":"m","type":"quantitative","scale":{"domain":[200,800],"nice":false,"zero":false},"axis":{"orient":"bottom","values":[200,300,400,500,600,700,800],"labels":false,"tickSize":-19,"tickWidth":2,"tickColor":"#000","domain":true,"domainColor":"#000","domainWidth":2.5,"title":null,"zindex":1}},
"y":{"field":"v","type":"quantitative","scale":{"domain":[0,500],"nice":false,"zero":false},"axis":{"orient":"left","values":[0,50,100,150,200,250,300,350,400,450,500],"labels":false,"tickSize":-30,"tickWidth":2,"tickColor":"#000","domain":true,"domainColor":"#000","domainWidth":2.5,"title":null,"zindex":1}},
"order":{"field":"o","type":"quantitative"}}},
{"data":{"name":"B_legbox"},"mark":{"type":"rect","color":"#fbe64f"},
"encoding":{"x":{"field":"m","type":"quantitative","scale":{"domain":[200,800],"nice":false,"zero":false},"axis":null},"x2":{"field":"m2"},"y":{"field":"v","type":"quantitative","scale":{"domain":[0,500],"nice":false,"zero":false},"axis":null},"y2":{"field":"v2"}}},
{"data":{"name":"B_legdot"},"mark":{"type":"rule","color":"#b5454a","strokeWidth":2.5,"strokeDash":[2,3]},
"encoding":{"x":{"field":"m","type":"quantitative","scale":{"domain":[200,800],"nice":false,"zero":false},"axis":null},"x2":{"field":"m2"},"y":{"field":"v","type":"quantitative","scale":{"domain":[0,500],"nice":false,"zero":false},"axis":null}}},
{"data":{"name":"B_legobs"},"mark":{"type":"rule","color":"#8b0c0c","strokeWidth":7},
"encoding":{"x":{"field":"m","type":"quantitative","scale":{"domain":[200,800],"nice":false,"zero":false},"axis":null},"x2":{"field":"m2"},"y":{"field":"v","type":"quantitative","scale":{"domain":[0,500],"nice":false,"zero":false},"axis":null}}},
{"data":{"name":"B_legexp"},"mark":{"type":"rule","color":"#1f3a9e","strokeWidth":3.5,"strokeDash":[10,6]},
"encoding":{"x":{"field":"m","type":"quantitative","scale":{"domain":[200,800],"nice":false,"zero":false},"axis":null},"x2":{"field":"m2"},"y":{"field":"v","type":"quantitative","scale":{"domain":[0,500],"nice":false,"zero":false},"axis":null}}},
{"data":{"name":"B_leg2011"},"mark":{"type":"rule","color":"#595959","strokeWidth":3,"strokeDash":[10,6]},
"encoding":{"x":{"field":"m","type":"quantitative","scale":{"domain":[200,800],"nice":false,"zero":false},"axis":null},"x2":{"field":"m2"},"y":{"field":"v","type":"quantitative","scale":{"domain":[0,500],"nice":false,"zero":false},"axis":null}}},
{"data":{"name":"B_head"},"mark":{"type":"text","font":"Liberation Sans","fontSize":25,"align":"left","baseline":"middle","color":"#222"},
"encoding":{"x":{"field":"m","type":"quantitative","scale":{"domain":[200,800],"nice":false,"zero":false},"axis":null},"y":{"field":"v","type":"quantitative","scale":{"domain":[0,500],"nice":false,"zero":false},"axis":null},"text":{"field":"t"}}},
{"data":{"name":"B_atlas"},"mark":{"type":"text","font":"Liberation Sans","fontSize":35,"fontWeight":"bold","fontStyle":"italic","align":"left","baseline":"middle","color":"#111"},
"encoding":{"x":{"field":"m","type":"quantitative","scale":{"domain":[200,800],"nice":false,"zero":false},"axis":null},"y":{"field":"v","type":"quantitative","scale":{"domain":[0,500],"nice":false,"zero":false},"axis":null},"text":{"field":"t"}}},
{"data":{"name":"B_t35"},"mark":{"type":"text","font":"Liberation Sans","fontSize":35,"align":"left","baseline":"middle","color":"#111"},
"encoding":{"x":{"field":"m","type":"quantitative","scale":{"domain":[200,800],"nice":false,"zero":false},"axis":null},"y":{"field":"v","type":"quantitative","scale":{"domain":[0,500],"nice":false,"zero":false},"axis":null},"text":{"field":"t"}}},
{"data":{"name":"B_int"},"mark":{"type":"text","font":"DejaVu Sans","fontSize":78,"align":"left","baseline":"middle","color":"#111"},
"encoding":{"x":{"field":"m","type":"quantitative","scale":{"domain":[200,800],"nice":false,"zero":false},"axis":null},"y":{"field":"v","type":"quantitative","scale":{"domain":[0,500],"nice":false,"zero":false},"axis":null},"text":{"field":"t"}}},
{"data":{"name":"B_leg"},"mark":{"type":"text","font":"Liberation Sans","fontSize":28,"align":"left","baseline":"middle","color":"#111"},
"encoding":{"x":{"field":"m","type":"quantitative","scale":{"domain":[200,800],"nice":false,"zero":false},"axis":null},"y":{"field":"v","type":"quantitative","scale":{"domain":[0,500],"nice":false,"zero":false},"axis":null},"text":{"field":"t"}}},
{"data":{"name":"B_legsm"},"mark":{"type":"text","font":"Liberation Sans","fontSize":18,"align":"left","baseline":"middle","color":"#111"},
"encoding":{"x":{"field":"m","type":"quantitative","scale":{"domain":[200,800],"nice":false,"zero":false},"axis":null},"y":{"field":"v","type":"quantitative","scale":{"domain":[0,500],"nice":false,"zero":false},"axis":null},"text":{"field":"t"}}},
{"data":{"name":"B_xt"},"mark":{"type":"text","font":"Liberation Sans","fontSize":33,"align":"right","baseline":"middle","color":"#111"},
"encoding":{"x":{"field":"m","type":"quantitative","scale":{"domain":[200,800],"nice":false,"zero":false},"axis":null},"y":{"field":"v","type":"quantitative","scale":{"domain":[0,500],"nice":false,"zero":false},"axis":null},"text":{"field":"t"}}},
{"data":{"name":"B_xs"},"mark":{"type":"text","font":"Liberation Sans","fontSize":21,"align":"left","baseline":"middle","color":"#111"},
"encoding":{"x":{"field":"m","type":"quantitative","scale":{"domain":[200,800],"nice":false,"zero":false},"axis":null},"y":{"field":"v","type":"quantitative","scale":{"domain":[0,500],"nice":false,"zero":false},"axis":null},"text":{"field":"t"}}},
{"data":{"name":"B_yt"},"mark":{"type":"text","font":"Liberation Sans","fontSize":33,"align":"center","baseline":"middle","angle":270,"color":"#111"},
"encoding":{"x":{"field":"m","type":"quantitative","scale":{"domain":[200,800],"nice":false,"zero":false},"axis":null},"y":{"field":"v","type":"quantitative","scale":{"domain":[0,500],"nice":false,"zero":false},"axis":null},"text":{"field":"t"}}},
{"data":{"name":"B_ys"},"mark":{"type":"text","font":"Liberation Sans","fontSize":21,"align":"center","baseline":"middle","angle":270,"color":"#111"},
"encoding":{"x":{"field":"m","type":"quantitative","scale":{"domain":[200,800],"nice":false,"zero":false},"axis":null},"y":{"field":"v","type":"quantitative","scale":{"domain":[0,500],"nice":false,"zero":false},"axis":null},"text":{"field":"t"}}},
{"data":{"name":"B_dl"},"mark":{"type":"text","font":"Liberation Sans","fontSize":24,"align":"center","baseline":"middle","angle":320,"color":"#9a9a9a"},
"encoding":{"x":{"field":"m","type":"quantitative","scale":{"domain":[200,800],"nice":false,"zero":false},"axis":null},"y":{"field":"v","type":"quantitative","scale":{"domain":[0,500],"nice":false,"zero":false},"axis":null},"text":{"field":"t"}}},
{"data":{"name":"B_green"},"mark":{"type":"rule","color":"#127812","strokeWidth":10},
"encoding":{"x":{"field":"m","type":"quantitative","scale":{"domain":[200,800],"nice":false,"zero":false},"axis":null},"y":{"field":"v","type":"quantitative","scale":{"domain":[0,500],"nice":false,"zero":false},"axis":null},"y2":{"field":"v2"}}},
{"data":{"name":"B_arrow"},"mark":{"type":"rule","color":"#127812","strokeWidth":5},
"encoding":{"x":{"field":"m","type":"quantitative","scale":{"domain":[200,800],"nice":false,"zero":false},"axis":null},"x2":{"field":"m2"},"y":{"field":"v","type":"quantitative","scale":{"domain":[0,500],"nice":false,"zero":false},"axis":null}}},
{"data":{"name":"B_arrowhead"},"mark":{"type":"point","shape":"triangle-right","filled":true,"size":320,"color":"#127812","opacity":1},
"encoding":{"x":{"field":"m","type":"quantitative","scale":{"domain":[200,800],"nice":false,"zero":false},"axis":null},"y":{"field":"v","type":"quantitative","scale":{"domain":[0,500],"nice":false,"zero":false},"axis":null}}}
]
}
],
"spacing":170,
"bounds":"flush"
}
],
"spacing":0,
"bounds":"flush"
}
],
"spacing":150,
"bounds":"flush"
}
